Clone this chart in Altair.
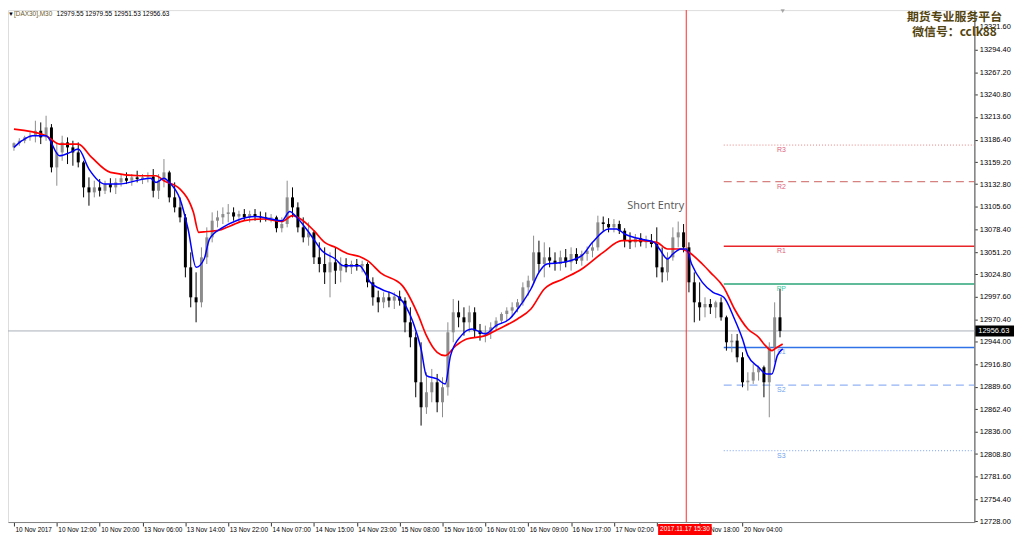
import altair as alt
import pandas as pd

# ---------------- header / meta ----------------
symbol = "[DAX30],M30"
last_ohlc_text = "12979.55 12979.55 12951.53 12956.63"
last_price = 12956.63
watermark_1 = "期货专业服务平台"
watermark_2 = "微信号：cclk88"

# ---------------- candles (one per hour, placed on the M30 bar index) ----------------
bar_index = list(range(0, 288, 2))
opens = [13177, 13182, 13185, 13189, 13191, 13197, 13189, 13201, 13153, 13171,
         13183, 13177, 13171, 13159, 13129, 13123, 13129, 13125, 13133, 13129,
         13135, 13140, 13137, 13141, 13139, 13141, 13142, 13125, 13137, 13147,
         13117, 13105, 13093, 13033, 12997, 12991, 13045, 13069, 13089, 13093,
         13097, 13099, 13094, 13097, 13093, 13097, 13094, 13093, 13092, 13093,
         13080, 13085, 13117, 13105, 13081, 13069, 13075, 13045, 13037, 13027,
         13039, 13029, 13037, 13033, 13037, 13034, 13037, 13015, 12997, 12991,
         12997, 12993, 12998, 12993, 12967, 12949, 12895, 12865, 12883, 12895,
         12871, 12889, 12955, 12979, 12973, 12967, 12979, 12957, 12953, 12955,
         12961, 12969, 12977, 12981, 12985, 12991, 13009, 13017, 13051, 13037,
         13045, 13041, 13037, 13045, 13039, 13049, 13041, 13049, 13053, 13057,
         13087, 13085, 13081, 13085, 13077, 13065, 13063, 13068, 13063, 13065,
         13061, 13033, 13027, 13045, 13069, 13075, 13057, 13015, 12991, 12985,
         12989, 12985, 12991, 12973, 12943, 12945, 12925, 12895, 12897, 12907,
         12913, 12895, 12937, 12973]
highs = [13183, 13188, 13191, 13195, 13209, 13207, 13215, 13205, 13183, 13191,
         13189, 13185, 13183, 13161, 13141, 13137, 13139, 13137, 13140, 13140,
         13145, 13147, 13145, 13149, 13145, 13147, 13151, 13145, 13163, 13149,
         13135, 13117, 13097, 13051, 13027, 13057, 13081, 13099, 13101, 13105,
         13109, 13105, 13101, 13103, 13101, 13103, 13100, 13099, 13097, 13095,
         13093, 13137, 13129, 13111, 13093, 13087, 13077, 13063, 13057, 13051,
         13057, 13045, 13044, 13041, 13043, 13041, 13039, 13021, 13005, 13003,
         13004, 13003, 13005, 12997, 12985, 12955, 12943, 12907, 12911, 12905,
         12901, 12967, 12995, 12993, 12985, 12987, 12985, 12965, 12963, 12967,
         12973, 12979, 12985, 12991, 12995, 13015, 13023, 13071, 13065, 13063,
         13057, 13051, 13053, 13055, 13057, 13056, 13053, 13058, 13063, 13095,
         13094, 13092, 13091, 13089, 13080, 13075, 13073, 13074, 13071, 13073,
         13081, 13057, 13051, 13081, 13088, 13085, 13063, 13027, 13015, 12997,
         12995, 12993, 12997, 12975, 12953, 12953, 12931, 12907, 12917, 12915,
         12915, 12943, 12991, 13007]
lows = [13173, 13179, 13182, 13185, 13183, 13181, 13185, 13147, 13131, 13161,
        13157, 13155, 13153, 13117, 13107, 13117, 13118, 13121, 13123, 13121,
        13130, 13133, 13131, 13135, 13133, 13135, 13117, 13115, 13129, 13111,
        13099, 13087, 13021, 12985, 12967, 12985, 13037, 13063, 13081, 13085,
        13087, 13089, 13087, 13089, 13087, 13089, 13087, 13088, 13087, 13075,
        13075, 13081, 13093, 13075, 13063, 13059, 13037, 13027, 13013, 12997,
        13013, 13015, 13027, 13025, 13029, 13027, 13009, 12987, 12979, 12984,
        12985, 12983, 12987, 12955, 12937, 12877, 12843, 12857, 12871, 12859,
        12853, 12879, 12943, 12961, 12951, 12955, 12949, 12945, 12943, 12947,
        12957, 12965, 12969, 12973, 12979, 12987, 12999, 13013, 13027, 13021,
        13033, 13029, 13029, 13033, 13029, 13037, 13035, 13041, 13045, 13053,
        13077, 13075, 13075, 13073, 13057, 13055, 13057, 13058, 13056, 13057,
        13021, 13015, 13017, 13041, 13057, 13051, 13003, 12967, 12969, 12973,
        12977, 12972, 12969, 12933, 12931, 12919, 12889, 12885, 12893, 12897,
        12877, 12853, 12919, 12949]
closes = [13182, 13185, 13189, 13191, 13197, 13189, 13201, 13153, 13171, 13183,
          13177, 13171, 13159, 13129, 13123, 13129, 13125, 13133, 13129, 13135,
          13140, 13137, 13141, 13139, 13141, 13142, 13125, 13137, 13147, 13117,
          13105, 13093, 13033, 12997, 12991, 13045, 13069, 13089, 13093, 13097,
          13099, 13094, 13097, 13093, 13097, 13094, 13093, 13092, 13093, 13080,
          13085, 13117, 13105, 13081, 13069, 13075, 13045, 13037, 13027, 13039,
          13029, 13037, 13033, 13037, 13034, 13037, 13015, 12997, 12991, 12997,
          12993, 12998, 12993, 12967, 12949, 12895, 12865, 12883, 12895, 12871,
          12889, 12955, 12979, 12973, 12967, 12979, 12957, 12953, 12955, 12961,
          12969, 12977, 12981, 12985, 12991, 13009, 13017, 13051, 13037, 13045,
          13041, 13037, 13045, 13039, 13049, 13041, 13049, 13053, 13057, 13087,
          13085, 13081, 13085, 13077, 13065, 13063, 13068, 13063, 13065, 13061,
          13033, 13027, 13045, 13069, 13075, 13057, 13015, 12991, 12985, 12989,
          12985, 12991, 12973, 12943, 12945, 12925, 12895, 12897, 12907, 12913,
          12895, 12937, 12973, 12956.63]

# ---------------- moving averages ----------------
blue_idx = [0, 3, 7, 12, 17, 21, 24, 28, 34, 39, 51, 53, 56, 58, 62, 65, 68, 71, 73, 78,
            83, 90, 96, 100, 103, 105, 111, 115, 120, 123, 129, 131, 133, 137, 144, 149, 152, 154, 158, 161,
            163, 167, 171, 176, 180, 185, 189, 193, 196, 199, 205, 212, 216, 222, 225, 228, 234, 239, 241, 244,
            246, 249, 251, 253, 257, 261, 265, 269, 272, 274, 278, 281, 283, 285, 287]
blue_val = [13177, 13185, 13191, 13191, 13167, 13171, 13175, 13151, 13133, 13133,
            13140, 13135, 13140, 13135, 13115, 13079, 13033, 13043, 13067, 13081,
            13089, 13094, 13091, 13089, 13100, 13095, 13071, 13053, 13043, 13035,
            13035, 13027, 13015, 13007, 12996, 12967, 12935, 12903, 12899, 12893,
            12927, 12951, 12959, 12953, 12963, 12971, 12987, 13007, 13027, 13037,
            13039, 13047, 13063, 13079, 13079, 13073, 13067, 13063, 13055, 13043,
            13049, 13055, 13055, 13037, 13015, 13003, 12997, 12971, 12947, 12927,
            12913, 12905, 12905, 12927, 12935]
red_idx = [0, 12, 17, 24, 29, 36, 47, 53, 56, 62, 67, 69, 72, 76, 81, 86, 93, 100, 104, 107,
           112, 116, 120, 125, 129, 132, 137, 145, 151, 154, 158, 161, 165, 169, 176, 181, 188, 193, 198, 205,
           212, 220, 227, 234, 240, 244, 249, 252, 257, 260, 265, 269, 274, 278, 280, 283, 284, 287]
red_val = [13199, 13191, 13181, 13181, 13165, 13147, 13143, 13143, 13137, 13127,
           13099, 13075, 13076, 13077, 13083, 13089, 13091, 13088, 13095, 13091,
           13077, 13063, 13057, 13049, 13046, 13041, 13026, 13011, 12975, 12951,
           12931, 12927, 12939, 12947, 12951, 12959, 12971, 12983, 13007, 13019,
           13031, 13051, 13065, 13065, 13063, 13055, 13055, 13051, 13037, 13027,
           13009, 12983, 12959, 12949, 12941, 12933, 12935, 12941]

# ---------------- pivots ----------------
pivot_names = ["R3", "R2", "R1", "PP", "S1", "S2", "S3"]
pivot_values = [13179.8, 13135.8, 13058.3, 13013.1, 12936.8, 12891.6, 12813.0]
pivot_start_index = 265
pivot_label_index = 286.5

# ---------------- annotations ----------------
entry_index = 251
entry_label = "2017.11.17 15:30"
note_text = "Short Entry"
note_index = 239.6
note_price = 13107

# ---------------- axes ----------------
ytick_values = [12728.00, 12754.40, 12781.60, 12808.80, 12836.00, 12862.40, 12889.60, 12916.80,
                12944.00, 12970.40, 12997.60, 13024.80, 13051.20, 13078.40, 13105.60, 13132.80,
                13159.20, 13186.40, 13213.60, 13240.80, 13267.20, 13294.40, 13321.60]
xtick_index = [0, 16, 32, 48, 64, 80, 96, 112, 128, 144, 160, 176, 192, 208, 224, 240, 256, 272]
xtick_labels = ["10 Nov 2017", "10 Nov 12:00", "10 Nov 20:00", "13 Nov 06:00", "13 Nov 14:00",
                "13 Nov 22:00", "14 Nov 07:00", "14 Nov 15:00", "14 Nov 23:00", "15 Nov 08:00",
                "15 Nov 16:00", "16 Nov 01:00", "16 Nov 09:00", "16 Nov 17:00", "17 Nov 02:00",
                "17 Nov 10:00", "17 Nov 18:00", "20 Nov 04:00"]

# ---------------- layout / style ----------------
W, H = 974, 516
FONT = "Liberation Sans"
xs = alt.Scale(domain=[-0.37, 356.7], nice=False, zero=False)
ys = alt.Scale(domain=[12727.2, 13341.85], nice=False, zero=False)

pivot_style = {
    "R3": dict(color="#e8807f", dash=[1, 2], width=1, label="#e0607a"),
    "R2": dict(color="#c9605e", dash=[8, 5], width=1, label="#e0607a"),
    "R1": dict(color="#e8262a", dash=None, width=1.5, label="#e0607a"),
    "PP": dict(color="#2ba57a", dash=None, width=1.5, label="#3cc9a0"),
    "S1": dict(color="#2f72e8", dash=None, width=1.5, label="#6f9ff0"),
    "S2": dict(color="#93b3f5", dash=[8, 5], width=1.3, label="#6f9ff0"),
    "S3": dict(color="#93b3f5", dash=[1, 2], width=1.3, label="#6f9ff0"),
}

candles = pd.DataFrame({"idx": bar_index, "open": opens, "high": highs, "low": lows, "close": closes})
candles["dir"] = ["up" if c >= o else "down" for o, c in zip(opens, closes)]
blue_df = pd.DataFrame({"idx": blue_idx, "v": blue_val})
red_df = pd.DataFrame({"idx": red_idx, "v": red_val})
one = pd.DataFrame({"k": [0]})  # single row for annotations

label_expr = ("[" + ",".join("'%s'" % s for s in xtick_labels) + "][indexof(["
              + ",".join(str(v) for v in xtick_index) + "], datum.value)]")

x_axis = alt.Axis(values=xtick_index, labelExpr=label_expr, labelAlign="left", labelFont=FONT,
                  labelFontSize=6.5, labelColor="#000000", tickSize=4, tickColor="#333333",
                  domainColor="#808080", labelPadding=1, labelOffset=1, grid=False,
                  labelFlush=False, labelOverlap=False, labelBound=False, title=None)
y_axis = alt.Axis(orient="right", values=ytick_values, format=".2f", labelFont=FONT,
                  labelFontSize=7.5, labelColor="#000000", tickSize=3, tickColor="#333333",
                  labelPadding=2, domainColor="#808080", domainWidth=1.5, grid=False,
                  labelFlush=False, labelOverlap=False, labelBound=False, title=None)


def X(field):
    return alt.X(field, type="quantitative", scale=xs, axis=x_axis, title=None)


def Y(field):
    return alt.Y(field, type="quantitative", scale=ys, axis=y_axis, title=None)


def XD(v):
    return alt.X(datum=v, scale=xs, axis=x_axis, title=None)


def YD(v):
    return alt.Y(datum=v, scale=ys, axis=y_axis, title=None)


color_dir = alt.Color("dir:N", scale=alt.Scale(domain=["up", "down"], range=["#8c8c8c", "#000000"]), legend=None)

layers = []

# current price horizontal line and entry vertical line
layers.append(alt.Chart(one).mark_rule(color="#a8b0b8", strokeWidth=1).encode(y=YD(last_price)))
layers.append(alt.Chart(one).mark_rule(color="#ff2a2a", strokeWidth=1).encode(x=XD(entry_index)))

# pivot lines + labels
for name, val in zip(pivot_names, pivot_values):
    st = pivot_style[name]
    pdf = pd.DataFrame({"name": [name], "value": [val], "start": [pivot_start_index],
                        "lab": [pivot_label_index]})
    kw = dict(color=st["color"], strokeWidth=st["width"])
    if st["dash"]:
        kw["strokeDash"] = st["dash"]
    layers.append(alt.Chart(pdf).mark_rule(**kw).encode(
        x=X("start"), x2=alt.value(W), y=Y("value")))
    layers.append(alt.Chart(pdf).mark_text(font=FONT, fontSize=7, color=st["label"], align="center",
                                           baseline="top", dy=1).encode(
        x=X("lab"), y=Y("value"), text="name:N"))

# candles
layers.append(alt.Chart(candles).mark_rule(strokeWidth=1).encode(
    x=X("idx"), y=Y("low"), y2="high", color=color_dir))
layers.append(alt.Chart(candles).mark_bar(width=3).encode(
    x=X("idx"), y=Y("open"), y2="close", color=color_dir))

# moving averages
layers.append(alt.Chart(red_df).mark_line(color="#ff0000", strokeWidth=1.7, interpolate="monotone").encode(
    x=X("idx"), y=Y("v")))
layers.append(alt.Chart(blue_df).mark_line(color="#0000ff", strokeWidth=1.5, interpolate="monotone").encode(
    x=X("idx"), y=Y("v")))

# Short Entry note
layers.append(alt.Chart(one).mark_text(font="Open Sans", fontSize=11, color="#555555",
                                       align="center", baseline="middle").encode(
    x=XD(note_index), y=YD(note_price), text=alt.value(note_text)))

# header
layers.append(alt.Chart(one).mark_text(font=FONT, fontSize=6, color="#000000", align="left",
                                       baseline="top").encode(
    x=alt.value(0), y=alt.value(1), text=alt.value("▼")))
layers.append(alt.Chart(one).mark_text(font=FONT, fontSize=6.5, color="#6b5a2a", align="left",
                                       baseline="top").encode(
    x=alt.value(6), y=alt.value(1), text=alt.value(symbol)))
layers.append(alt.Chart(one).mark_text(font=FONT, fontSize=6.5, color="#000000", align="left",
                                       baseline="top").encode(
    x=alt.value(49), y=alt.value(1), text=alt.value(last_ohlc_text)))

# watermark
layers.append(alt.Chart(one).mark_text(font="Noto Sans CJK SC", fontSize=12, fontWeight="bold",
                                       color="#54440f", align="center", baseline="middle").encode(
    x=alt.value(W - 20), y=alt.value(7), text=alt.value(watermark_1)))
layers.append(alt.Chart(one).mark_text(font="Noto Sans CJK SC", fontSize=12, fontWeight="bold",
                                       color="#54440f", align="center", baseline="middle").encode(
    x=alt.value(W - 20), y=alt.value(22), text=alt.value(watermark_2)))

# shift marker at top
layers.append(alt.Chart(one).mark_point(shape="triangle-down", filled=True, size=18, color="#888888").encode(
    x=XD(287), y=alt.value(1)))

# current price box on the axis
layers.append(alt.Chart(one).mark_rule(color="#000000", strokeWidth=11).encode(
    x=alt.value(W + 1), x2=alt.value(W + 40), y=YD(last_price)))
layers.append(alt.Chart(one).mark_text(font=FONT, fontSize=7.5, color="#ffffff", align="left",
                                       baseline="middle").encode(
    x=alt.value(W + 4), y=YD(last_price), text=alt.value("12956.63")))

# entry time box on the time axis
layers.append(alt.Chart(one).mark_rect(color="#ff0000").encode(
    x=XD(entry_index - 10.5), x2=alt.X2(datum=entry_index + 9.5),
    y=alt.value(H + 2), y2=alt.value(H + 13)))
layers.append(alt.Chart(one).mark_text(font=FONT, fontSize=6.5, color="#ffffff", align="center",
                                       baseline="middle").encode(
    x=XD(entry_index - 0.5), y=alt.value(H + 7.5), text=alt.value(entry_label)))

chart = alt.layer(*layers).properties(
    width=W, height=H,
    autosize=alt.AutoSizeParams(type="none"),
    padding={"left": 0, "top": 0, "right": 42, "bottom": 17},
).configure_view(stroke="#808080", strokeWidth=1).configure(background="#ffffff")

chart.save("out.html", embed_options={"renderer": "svg", "actions": False})
